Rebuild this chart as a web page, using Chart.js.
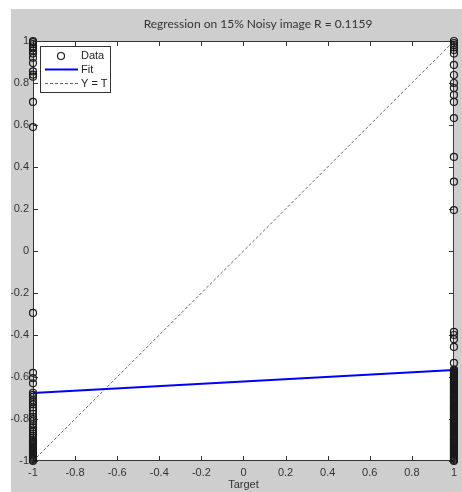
<!DOCTYPE html>
<html>
<head>
<meta charset="utf-8">
<script src="https://cdn.jsdelivr.net/npm/chart.js@4/dist/chart.umd.min.js"></script>
<style>
  html, body { margin: 0; padding: 0; background: #fff; }
  #frame { position: absolute; left: 11px; top: 9px; width: 451px; height: 483px; background: #cecece; }
  canvas { display: block; }
</style>
</head>
<body>
<div id="frame"><canvas id="chart" width="451" height="483"></canvas></div>
<script>
const chartTitle = "Regression on 15% Noisy image R = 0.1159";
// outputs at target = -1
const leftOutputs = [
    1.0, 0.995, 0.985, 0.975, 0.965, 0.955, 0.94, 0.92, 0.895, 0.855, 0.84, 0.83,
    0.71, 0.59, -0.295, -0.58, -0.605, -0.63,
    -0.675, -0.685, -0.695, -0.71, -0.72, -0.73, -0.745, -0.76, -0.775, -0.79,
    -0.80, -0.81, -0.825, -0.84, -0.85, -0.86, -0.87, -0.88, -0.89, -0.9, -0.905,
    -0.91, -0.915, -0.92, -0.925, -0.93, -0.935, -0.94, -0.945, -0.95, -0.955,
    -0.96, -0.965, -0.97, -0.975, -0.98, -0.985, -0.99, -0.995, -1.0
];
// outputs at target = 1
const rightOutputs = [
    1.0, 0.99, 0.98, 0.97, 0.957, 0.94, 0.886, 0.838, 0.8, 0.776, 0.743, 0.71,
    0.633, 0.448, 0.33, 0.195, -0.385, -0.40, -0.42, -0.457, -0.533,
    -0.565, -0.57, -0.575, -0.58, -0.585, -0.59, -0.595, -0.60, -0.605, -0.61,
    -0.615, -0.62, -0.625, -0.63, -0.635, -0.64, -0.645, -0.65, -0.655, -0.66,
    -0.665, -0.67, -0.675, -0.68, -0.685, -0.69, -0.695, -0.70, -0.705, -0.71,
    -0.715, -0.72, -0.725, -0.73, -0.735, -0.74, -0.745, -0.75, -0.755, -0.76,
    -0.765, -0.77, -0.775, -0.78, -0.785, -0.79, -0.795, -0.80, -0.805, -0.81,
    -0.815, -0.82, -0.825, -0.83, -0.835, -0.84, -0.845, -0.85, -0.855, -0.86,
    -0.865, -0.87, -0.875, -0.88, -0.885, -0.89, -0.895, -0.90, -0.905, -0.91,
    -0.915, -0.92, -0.925, -0.93, -0.935, -0.94, -0.945, -0.95, -0.955, -0.96,
    -0.965, -0.97, -0.975, -0.98, -0.985, -0.99, -0.995, -1.0
];
const fitX = [-1, 1];
const fitY = [-0.676, -0.567];
const idealX = [-1, 1];
const idealY = [-1, 1];
const tickValues = [-1, -0.8, -0.6, -0.4, -0.2, 0, 0.2, 0.4, 0.6, 0.8, 1];

const points = leftOutputs.map(v => ({ x: -1, y: v }))
    .concat(rightOutputs.map(v => ({ x: 1, y: v })));

const fmt = v => String(Number(v.toFixed(1)));
const labelFont = "'Liberation Sans', Arial, sans-serif";

const matlabAxes = {
    id: "matlabAxes",
    beforeDraw(chart) {
        const { ctx, chartArea: a } = chart;
        ctx.save();
        ctx.fillStyle = "#fff";
        ctx.fillRect(a.left, a.top, a.right - a.left, a.bottom - a.top);
        // title, centred a bit right of the axes like the original figure
        ctx.fillStyle = "#333";
        ctx.font = "12px Lato, 'Open Sans', sans-serif";
        ctx.textAlign = "center";
        ctx.textBaseline = "middle";
        ctx.fillText(chartTitle, 247, 15.5);
        ctx.restore();
    },
    beforeDatasetsDraw(chart) {
        const { ctx, chartArea: a, scales } = chart;
        ctx.save();
        ctx.strokeStyle = "#333";
        ctx.lineWidth = 1;
        ctx.strokeRect(a.left + 0.5, a.top + 0.5, a.right - a.left - 1, a.bottom - a.top - 1);
        ctx.beginPath();
        tickValues.forEach(v => {
            const px = Math.round(scales.x.getPixelForValue(v)) + 0.5;
            ctx.moveTo(px, a.bottom); ctx.lineTo(px, a.bottom - 5);
            ctx.moveTo(px, a.top); ctx.lineTo(px, a.top + 5);
            const py = Math.round(scales.y.getPixelForValue(v)) + 0.5;
            ctx.moveTo(a.left, py); ctx.lineTo(a.left + 5, py);
            ctx.moveTo(a.right, py); ctx.lineTo(a.right - 5, py);
        });
        ctx.stroke();
        ctx.restore();
    },
    afterDraw(chart) {
        const ctx = chart.ctx;
        const ds = chart.data.datasets;
        ctx.save();
        ctx.fillStyle = "#fff";
        ctx.fillRect(29, 37, 70, 46);
        ctx.strokeStyle = "#333";
        ctx.lineWidth = 1;
        ctx.strokeRect(29.5, 37.5, 70, 46);
        ctx.font = "11px " + labelFont;
        ctx.textBaseline = "middle";
        const rows = [47, 60.5, 74.5];
        ds.forEach((d, i) => {
            const y = rows[i];
            ctx.strokeStyle = d.borderColor;
            if (i === 0) {
                ctx.lineWidth = 1.2;
                ctx.beginPath();
                ctx.arc(50, y, 3.5, 0, Math.PI * 2);
                ctx.stroke();
            } else {
                ctx.lineWidth = d.borderWidth;
                ctx.setLineDash(d.borderDash || []);
                ctx.beginPath();
                ctx.moveTo(34, y); ctx.lineTo(67, y);
                ctx.stroke();
                ctx.setLineDash([]);
            }
            ctx.fillStyle = "#222";
            ctx.fillText(d.label, 70, y);
        });
        ctx.restore();
    }
};

new Chart(document.getElementById("chart"), {
    type: "scatter",
    data: {
        datasets: [
            {
                label: "Data",
                data: points,
                borderColor: "#1a1a1a",
                backgroundColor: "rgba(0,0,0,0)",
                pointRadius: 3.5,
                pointBorderWidth: 1.2,
                clip: false
            },
            {
                label: "Fit",
                data: fitX.map((x, i) => ({ x, y: fitY[i] })),
                showLine: true,
                borderColor: "#0000ff",
                borderWidth: 2,
                pointRadius: 0
            },
            {
                label: "Y = T",
                data: idealX.map((x, i) => ({ x, y: idealY[i] })),
                showLine: true,
                borderColor: "#666",
                borderWidth: 1,
                borderDash: [3, 2],
                pointRadius: 0
            }
        ]
    },
    options: {
        responsive: false,
        animation: false,
        layout: { padding: { left: 0, right: 4, top: 32, bottom: 0 } },
        plugins: {
            legend: { display: false },
            tooltip: { enabled: false },
            title: { display: false }
        },
        scales: {
            x: {
                type: "linear",
                min: -1,
                max: 1,
                afterFit: s => { s.height = 31; },
                afterBuildTicks: s => { s.ticks = tickValues.map(v => ({ value: v })); },
                grid: { display: false, drawTicks: false },
                border: { display: false },
                ticks: {
                    callback: fmt,
                    color: "#333",
                    padding: 5,
                    maxRotation: 0,
                    autoSkip: false,
                    font: { family: labelFont, size: 11 }
                },
                title: {
                    display: true,
                    text: "Target",
                    color: "#333",
                    padding: { top: 0, bottom: 0 },
                    font: { family: labelFont, size: 11 }
                }
            },
            y: {
                type: "linear",
                min: -1,
                max: 1,
                afterFit: s => { s.width = 22; },
                afterBuildTicks: s => { s.ticks = tickValues.map(v => ({ value: v })); },
                grid: { display: false, drawTicks: false },
                border: { display: false },
                ticks: {
                    callback: fmt,
                    color: "#333",
                    padding: 4,
                    autoSkip: false,
                    font: { family: labelFont, size: 11 }
                }
            }
        }
    },
    plugins: [matlabAxes]
});
</script>
</body>
</html>
